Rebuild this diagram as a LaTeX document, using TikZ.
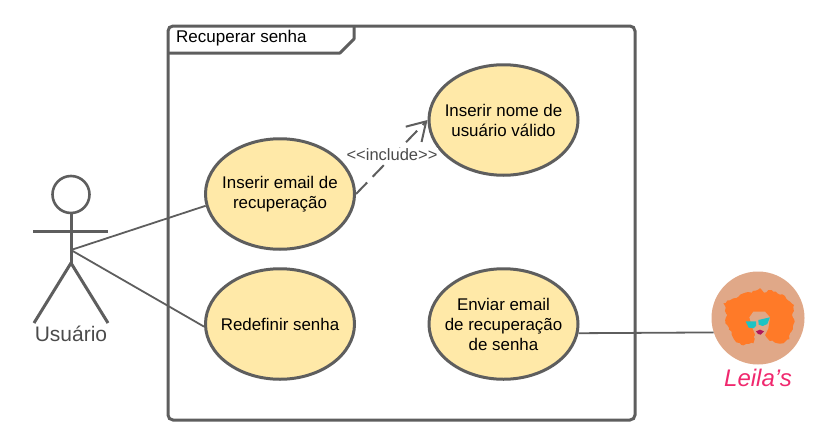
\documentclass[tikz,border=0pt]{standalone}
\usepackage{fontspec}
\setmainfont{Liberation Sans}
\usetikzlibrary{arrows.meta,shapes.geometric,decorations.pathmorphing}
\definecolor{ink}{HTML}{5E5E5E}
\definecolor{ucfill}{HTML}{FFE9A8}
\definecolor{skin}{HTML}{E0A888}
\definecolor{hair}{HTML}{FF7A28}
\definecolor{shades}{HTML}{1CC4C4}
\definecolor{lips}{HTML}{B0185A}
\definecolor{logopink}{HTML}{F0286E}
\tikzset{
  usecase/.style={ellipse,draw=ink,line width=3pt,fill=ucfill,minimum width=149pt,minimum height=110.5pt,inner xsep=-30pt,inner ysep=0pt,align=center,font=\fontsize{16.9}{20}\selectfont,text=black},
  link/.style={draw=ink,line width=1.8pt},
  stick/.style={draw=ink,line width=3pt},
  framebox/.style={draw=ink,line width=3pt,rounded corners=5pt,minimum width=467pt,minimum height=394pt,inner sep=0pt}
}
\begin{document}
\begin{tikzpicture}[x=1pt,y=-1pt]
\useasboundingbox (0,0) rectangle (837,447);
% frame
\node[framebox,anchor=north west] (frame) at (166.5,24.5) {};
\draw[stick,line join=round] (168,53) -- (340,53) -- (354,39) -- (354,26);
\node[anchor=west,inner sep=0pt,font=\fontsize{17}{20}\selectfont,text=black] (title) at (176,38.5) {Recuperar senha};
% use cases
\node[usecase] (email) at (280,194) {Inserir email de\\recuperação};
\node[usecase] (nome) at (503.5,120) {Inserir nome de\\usuário válido};
\node[usecase] (redef) at (280,324) {Redefinir senha};
\node[usecase] (enviar) at (503.5,324) {Enviar email\\de recuperação\\de senha};
% actor
\node[circle,draw=ink,line width=2.6pt,minimum size=37pt,inner sep=0pt] (head) at (71,194.5) {};
\coordinate (arml) at (33,231);
\coordinate (armr) at (108,231);
\coordinate (hip) at (71,263);
\coordinate (legl) at (34,323);
\coordinate (legr) at (108,323);
\coordinate (hand) at (71,250);
\draw[stick] (head) -- (hip);
\draw[stick] (arml) -- (armr);
\draw[stick,line join=round] (legl) -- (hip) -- (legr);
\node[font=\fontsize{21}{24}\selectfont,text=ink!80!black,inner sep=0pt] (actor) at (71,334) {Usuário};
% logo
\node[circle,fill=skin,minimum size=93pt,inner sep=0pt] (logo) at (758,318) {};
\begin{scope}[shift={(690,260)},x=0.3333pt,y=-0.3333pt]
\fill[hair,decorate,decoration={random steps,segment length=2.5pt,amplitude=1.1pt}] (210,84) -- (222,98) -- (245,90) -- (262,100) -- (285,108) -- (300,125) -- (312,135) -- (306,165) -- (314,185) -- (304,215) -- (298,238) -- (280,250) -- (255,248) -- (235,238) -- (225,225) -- (195,225) -- (190,250) -- (160,256) -- (135,242) -- (125,215) -- (106,190) -- (112,165) -- (100,130) -- (130,115) -- (160,100) -- (185,98) -- cycle;
\fill[skin] (178,172) -- (190,155) -- (225,155) -- (240,172) -- (235,205) -- (222,232) -- (200,236) -- (188,205) -- cycle;
\fill[shades] (167,184) -- (198,184) -- (198,198) -- (190,205) -- (176,203) -- cycle;
\fill[shades] (205,180) -- (240,172) -- (232,192) -- (218,198) -- (206,194) -- cycle;
\fill[lips] (198,214) -- (210,209) -- (222,214) -- (212,224) -- (204,222) -- cycle;
\end{scope}
\node[font=\itshape\fontsize{24}{28}\selectfont,text=logopink,inner sep=0pt] (brand) at (758,378) {Leila's};
% connectors
\draw[link] (hand) -- (email.189);
\draw[link] (hand) -- (redef.182);
\draw[link] (enviar.-7.5) -- (logo.198.8);
\draw[draw=ink,line width=2pt,dash pattern=on 16pt off 8pt,-{Straight Barb[length=18pt,width=22pt,line width=2pt]}] (email.0) -- (nome.180);
\node[fill=white,inner sep=1pt,font=\fontsize{16.5}{19}\selectfont,text=ink!80!black] (inc) at (392,155) {<{}<include>{}>};
\end{tikzpicture}
\end{document}
